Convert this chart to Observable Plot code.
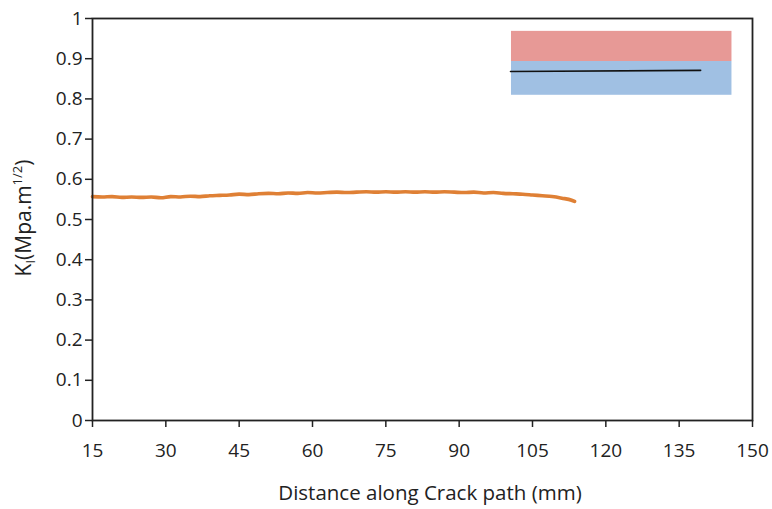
<!DOCTYPE html>
<html><head><meta charset="utf-8">
<script src="https://cdn.jsdelivr.net/npm/d3@7"></script>
<script src="https://cdn.jsdelivr.net/npm/@observablehq/plot@0.6"></script>
<style>
body{margin:0;background:#fff}
#chart svg{display:block}
</style>
</head><body><div id="chart"></div>
<script>
// Data
const distance = [15,17,19,21,23,25,27,29,31,33,35,37,39,41,43,45,47,49,51,53,55,57,59,61,63,65,67,69,71,73,75,77,79,81,83,85,87,89,91,93,95,97,99,101,103,105,107,109,111,113,113.6];
const kI = [0.557,0.556,0.557,0.555,0.556,0.555,0.556,0.554,0.557,0.556,0.558,0.557,0.559,0.560,0.561,0.563,0.562,0.564,0.565,0.564,0.566,0.565,0.567,0.566,0.567,0.568,0.567,0.568,0.569,0.568,0.569,0.568,0.569,0.568,0.569,0.568,0.569,0.568,0.567,0.568,0.566,0.567,0.565,0.564,0.563,0.561,0.559,0.557,0.553,0.548,0.545];
const xTicks = [15,30,45,60,75,90,105,120,135,150];
const yTicks = [0,0.1,0.2,0.3,0.4,0.5,0.6,0.7,0.8,0.9,1];
// Inset (schematic) bands and crack line, in data units
const insetBands = [
  {x1:100.7, x2:145.8, y1:0.893, y2:0.968, fill:"#e79996"},
  {x1:100.7, x2:145.8, y1:0.809, y2:0.893, fill:"#a0c0e3"}
];
const insetLineX = [100.5, 139.4];
const insetLineY = [0.868, 0.871];

const data = distance.map((d,i)=>({x:d, y:kI[i]}));
const crack = insetLineX.map((d,i)=>({x:d, y:insetLineY[i]}));

const font = "'Open Sans', Lato, sans-serif";
const chart = Plot.plot({
  width: 772, height: 509,
  marginLeft: 92, marginRight: 20, marginTop: 18, marginBottom: 89,
  style: {fontFamily: font, fontSize: "19px", color: "#222", background: "#fff"},
  x: {domain: [15,150], ticks: xTicks, tickFormat: d=>String(d), label: null},
  y: {domain: [0,1], ticks: yTicks, tickFormat: d=>String(+d.toFixed(1)), label: null},
  marks: [
    Plot.rect(insetBands, {x1:"x1", x2:"x2", y1:"y1", y2:"y2", fill:"fill"}),
    Plot.line(crack, {x:"x", y:"y", stroke:"#111", strokeWidth:1.6}),
    Plot.line(data, {x:"x", y:"y", stroke:"#df8035", strokeWidth:3.6, curve:"monotone-x"}),
    Plot.axisX({ticks: xTicks, tickSize: 7, tickPadding: 16, stroke:"#222", strokeWidth:1.5, fontSize: 19, label: null}),
    Plot.axisY({ticks: yTicks, tickSize: 7, tickPadding: 3, stroke:"#222", strokeWidth:1.5, fontSize: 19, label: null, tickFormat: d=>String(+d.toFixed(1))}),
    Plot.frame({stroke:"#222", strokeWidth:1.8})
  ]
});
document.getElementById("chart").appendChild(chart);

// Axis titles with sub/superscripts as real text
const svg = d3.select(chart);
svg.append("text")
  .attr("x", 430).attr("y", 500)
  .attr("text-anchor", "middle")
  .attr("font-family", font).attr("font-size", 20.5).attr("fill", "#222")
  .text("Distance along Crack path (mm)");
const yl = svg.append("text")
  .attr("transform", "translate(31,218) rotate(-90)")
  .attr("text-anchor", "middle")
  .attr("font-family", font).attr("font-size", 21).attr("fill", "#222");
yl.append("tspan").text("K");
yl.append("tspan").attr("font-size", 13).attr("dy", 4).text("I");
yl.append("tspan").attr("dy", -4).text("(Mpa.m");
yl.append("tspan").attr("font-size", 13).attr("dy", -9).text("1/2");
yl.append("tspan").attr("dy", 9).text(")");
</script>
</body></html>
